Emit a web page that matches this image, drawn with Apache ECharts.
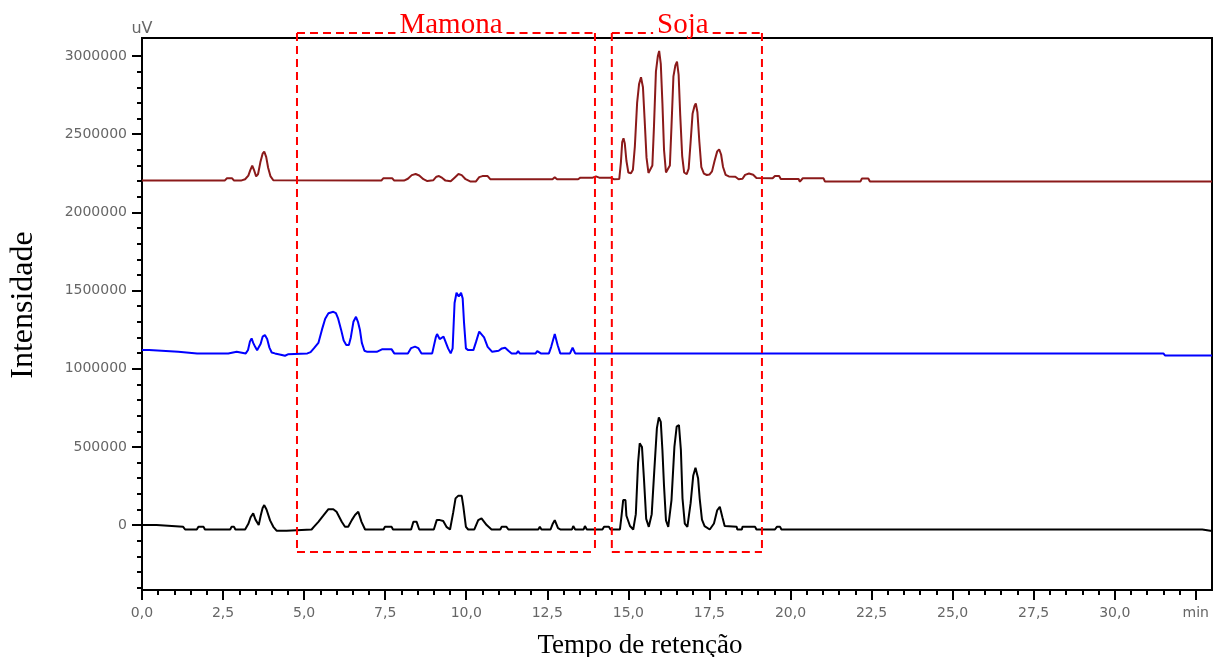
<!DOCTYPE html>
<html>
<head>
<meta charset="utf-8">
<script src="https://cdn.jsdelivr.net/npm/echarts@6/dist/echarts.min.js"></script>
<style>
  html, body { margin: 0; padding: 0; background: #fff; }
  #chart { width: 1222px; height: 657px; }
</style>
</head>
<body>
<div id="chart"></div>
<script>
// Retention time axis (min) and intensity axis (uV)
const xMajorTicks = [0, 2.5, 5, 7.5, 10, 12.5, 15, 17.5, 20, 22.5, 25, 27.5, 30, 32.5];
const xMinorTicks = [];
for (let i = 0; i <= 65; i++) xMinorTicks.push(i * 0.5);
const yMajorTicks = [0, 500000, 1000000, 1500000, 2000000, 2500000, 3000000];
const yMinorTicks = [];
for (let i = -4; i <= 30; i++) yMinorTicks.push(i * 100000);

// Chromatograms: [time (min), intensity (thousands of uV)]
const soyTrace = [
  [0,2203],[2.55,2203],[2.62,2218],[2.78,2218],[2.84,2203],[3.05,2203],[3.18,2212],[3.28,2235],[3.34,2270],[3.40,2298],
  [3.46,2268],[3.52,2230],[3.58,2245],[3.65,2320],[3.72,2375],[3.77,2388],[3.83,2355],[3.89,2285],[3.96,2232],[4.05,2205],
  [7.38,2203],[7.44,2218],[7.72,2218],[7.78,2203],[8.08,2203],[8.2,2215],[8.32,2238],[8.44,2245],[8.55,2236],[8.68,2212],
  [8.8,2200],[8.98,2205],[9.08,2228],[9.16,2232],[9.26,2220],[9.36,2203],[9.52,2199],[9.64,2222],[9.76,2245],[9.86,2238],
  [9.98,2212],[10.12,2198],[10.3,2198],[10.4,2225],[10.5,2232],[10.66,2232],[10.74,2212],[12.66,2212],[12.73,2225],[12.8,2212],
  [13.45,2212],[13.52,2222],[13.9,2222],[14.0,2230],[14.1,2222],[14.45,2222],[14.55,2212],[14.72,2214],[14.77,2320],[14.81,2450],
  [14.85,2474],[14.89,2440],[14.94,2330],[15.0,2255],[15.08,2250],[15.14,2272],[15.2,2420],[15.27,2700],[15.33,2820],[15.39,2864],
  [15.45,2800],[15.5,2600],[15.56,2350],[15.62,2252],[15.68,2245],[15.74,2300],[15.79,2550],[15.85,2900],[15.91,3000],[15.95,3032],
  [16.0,2950],[16.05,2700],[16.1,2400],[16.16,2255],[16.22,2245],[16.28,2300],[16.33,2550],[16.39,2870],[16.45,2940],[16.5,2964],
  [16.55,2880],[16.6,2620],[16.66,2360],[16.72,2255],[16.8,2245],[16.86,2280],[16.92,2450],[16.98,2630],[17.04,2680],[17.08,2697],
  [17.13,2640],[17.19,2450],[17.25,2290],[17.33,2248],[17.42,2239],[17.5,2242],[17.58,2262],[17.66,2330],[17.74,2390],[17.8,2403],
  [17.86,2370],[17.92,2290],[18.0,2240],[18.1,2230],[18.3,2228],[18.4,2212],[18.52,2215],[18.6,2240],[18.72,2248],[18.85,2240],
  [18.95,2220],[19.45,2218],[19.52,2232],[19.65,2232],[19.7,2213],[20.25,2213],[20.29,2196],[20.34,2196],[20.38,2218],[21.02,2218],
  [21.06,2198],[22.16,2198],[22.2,2216],[22.4,2216],[22.45,2198],[33,2198]
];
const castorTrace = [
  [0,1119],[0.22,1119],[0.25,1109],[1.12,1109],[1.17,1098],[1.7,1098],[1.74,1109],[1.78,1098],[2.58,1098],[2.62,1109],
  [2.66,1098],[2.7,1109],[2.92,1109],[2.97,1098],[3.2,1098],[3.27,1120],[3.33,1175],[3.38,1194],[3.43,1165],[3.49,1140],
  [3.55,1118],[3.6,1109],[3.66,1160],[3.72,1205],[3.79,1215],[3.86,1190],[3.93,1135],[4.0,1104],[4.1,1098],[4.28,1090],
  [4.41,1083],[4.5,1092],[4.56,1098],[5.1,1098],[5.2,1106],[5.3,1130],[5.44,1165],[5.55,1250],[5.65,1320],[5.75,1355],
  [5.9,1364],[5.98,1355],[6.05,1320],[6.14,1250],[6.22,1180],[6.3,1152],[6.38,1151],[6.44,1200],[6.52,1300],[6.6,1332],
  [6.66,1300],[6.72,1250],[6.78,1165],[6.86,1115],[6.95,1108],[7.24,1108],[7.3,1096],[7.4,1124],[7.7,1124],[7.78,1098],
  [8.2,1098],[8.3,1132],[8.42,1141],[8.52,1132],[8.62,1098],[8.95,1098],[9.0,1110],[9.06,1200],[9.1,1222],[9.18,1190],
  [9.24,1183],[9.3,1205],[9.36,1198],[9.44,1130],[9.52,1098],[9.58,1130],[9.64,1420],[9.7,1486],[9.77,1462],[9.84,1486],
  [9.89,1450],[9.93,1300],[9.99,1130],[10.06,1119],[10.22,1119],[10.3,1170],[10.4,1238],[10.46,1247],[10.55,1200],[10.66,1140],
  [10.8,1108],[11.0,1115],[11.1,1130],[11.2,1134],[11.3,1115],[11.4,1098],[11.55,1098],[11.6,1113],[11.65,1098],[12.14,1098],
  [12.19,1113],[12.3,1098],[12.55,1098],[12.62,1140],[12.73,1222],[12.82,1150],[12.9,1098],[13.2,1098],[13.28,1134],[13.36,1098],
  [31.5,1098],[31.55,1085],[33,1085]
];
const blendTrace = [
  [0,0],[0.45,0],[0.5,-11],[1.27,-11],[1.33,-28],[1.69,-28],[1.74,-11],[1.9,-11],[1.94,-28],[2.72,-28],
  [2.76,-11],[2.84,-11],[2.88,-28],[3.18,-28],[3.28,8],[3.35,50],[3.43,75],[3.5,35],[3.6,0],[3.66,60],
  [3.72,110],[3.77,128],[3.84,100],[3.95,30],[4.05,-11],[4.15,-36],[4.46,-36],[4.5,-28],[5.23,-28],[5.3,-11],
  [5.44,21],[5.59,60],[5.75,102],[5.9,102],[6.0,85],[6.16,21],[6.26,-11],[6.36,-11],[6.47,32],[6.57,65],
  [6.67,85],[6.77,21],[6.88,-28],[7.45,-28],[7.49,-11],[7.7,-11],[7.74,-28],[8.3,-28],[8.37,21],[8.47,21],
  [8.55,-28],[9.0,-28],[9.09,32],[9.19,32],[9.29,26],[9.39,-11],[9.5,-28],[9.6,83],[9.67,171],[9.75,187],
  [9.86,187],[9.91,120],[9.99,-11],[10.06,-28],[10.25,-28],[10.37,32],[10.47,43],[10.63,0],[10.78,-28],[11.05,-28],
  [11.09,-11],[11.24,-11],[11.3,-28],[12.22,-28],[12.27,-11],[12.32,-28],[12.6,-28],[12.66,5],[12.73,32],[12.83,-20],
  [12.9,-28],[13.26,-28],[13.3,-6],[13.36,-28],[13.62,-28],[13.66,-6],[13.72,-28],[14.2,-28],[14.25,-11],[14.4,-11],
  [14.45,-28],[14.74,-28],[14.79,60],[14.84,160],[14.91,160],[14.94,60],[15.05,-6],[15.15,-28],[15.23,70],[15.3,400],
  [15.35,523],[15.42,500],[15.48,300],[15.55,40],[15.63,-11],[15.72,70],[15.8,350],[15.88,620],[15.94,689],[16.0,660],
  [16.05,480],[16.1,250],[16.16,30],[16.23,-11],[16.33,160],[16.42,500],[16.49,630],[16.56,640],[16.62,480],[16.67,170],
  [16.74,10],[16.82,-11],[16.92,140],[17.0,315],[17.07,367],[17.15,300],[17.2,170],[17.27,35],[17.35,-6],[17.51,-28],
  [17.64,10],[17.74,95],[17.82,117],[17.9,50],[17.97,-6],[18.03,-11],[18.34,-11],[18.36,-28],[18.5,-28],[18.52,-11],
  [18.91,-11],[18.95,-28],[19.52,-28],[19.58,-11],[19.68,-11],[19.72,-28],[32.7,-28],[32.75,-38],[33,-38]
];

// Highlighted elution windows
const regionNames = ['Mamona', 'Soja'];
const regionStart = [4.78, 14.49];
const regionEnd = [13.97, 19.12];
const regionTop = 3147000;
const regionBottom = -172000;

const toUv = arr => arr.map(p => [p[0], p[1] * 1000]);

const labelFont = 'DejaVu Sans';
const labelColor = '#666666';
const serif = '"Liberation Serif", "Times New Roman", serif';

const chart = echarts.init(document.getElementById('chart'), null, { renderer: 'canvas' });

const option = {
  animation: false,
  backgroundColor: '#ffffff',
  grid: { left: 142, right: 10, top: 38, bottom: 67, show: true, borderColor: '#000', borderWidth: 2 },
  xAxis: [
    {
      type: 'value', min: 0, max: 33, position: 'bottom',
      axisLine: { onZero: false, lineStyle: { color: '#000', width: 2 } },
      axisTick: { customValues: xMajorTicks, length: 10, lineStyle: { color: '#000', width: 2 } },
      axisLabel: {
        customValues: xMajorTicks, margin: 16, color: labelColor, fontFamily: labelFont, fontSize: 14,
        formatter: v => (Math.abs(v - 32.5) < 1e-6 ? 'min' : v.toFixed(1).replace('.', ','))
      },
      splitLine: { show: false }
    },
    {
      type: 'value', min: 0, max: 33, position: 'bottom',
      axisLine: { show: false, onZero: false },
      axisTick: { customValues: xMinorTicks, length: 5, lineStyle: { color: '#000', width: 2 } },
      axisLabel: { show: false },
      splitLine: { show: false }
    }
  ],
  yAxis: [
    {
      type: 'value', min: -415000, max: 3115000, position: 'left',
      name: 'uV', nameLocation: 'end', nameGap: 1,
      nameTextStyle: { color: labelColor, fontFamily: labelFont, fontSize: 16, align: 'center', verticalAlign: 'bottom' },
      axisLine: { onZero: false, lineStyle: { color: '#000', width: 2 } },
      axisTick: { customValues: yMajorTicks, length: 10, lineStyle: { color: '#000', width: 2 } },
      axisLabel: {
        customValues: yMajorTicks, margin: 15, color: labelColor, fontFamily: labelFont, fontSize: 14,
        formatter: v => String(v)
      },
      splitLine: { show: false }
    },
    {
      type: 'value', min: -415000, max: 3115000, position: 'left',
      axisLine: { show: false, onZero: false },
      axisTick: { customValues: yMinorTicks, length: 5, lineStyle: { color: '#000', width: 2 } },
      axisLabel: { show: false },
      splitLine: { show: false }
    }
  ],
  series: [
    { name: 'Biodiesel de soja', type: 'line', data: toUv(soyTrace), showSymbol: false, lineStyle: { color: '#8b1a1a', width: 2 }, z: 3 },
    { name: 'Biodiesel de mamona', type: 'line', data: toUv(castorTrace), showSymbol: false, lineStyle: { color: '#0000ff', width: 2 }, z: 3 },
    { name: 'Mistura', type: 'line', data: toUv(blendTrace), showSymbol: false, lineStyle: { color: '#000000', width: 2 }, z: 3 }
  ],
  graphic: [
    {
      type: 'text', x: 24, y: 305, rotation: Math.PI / 2, z: 20,
      style: { text: 'Intensidade', font: '32px ' + serif, fill: '#000', align: 'center', verticalAlign: 'middle' }
    },
    {
      type: 'text', x: 640, y: 646, z: 20,
      style: { text: 'Tempo de retenção', font: '27px ' + serif, fill: '#000', align: 'center', verticalAlign: 'middle' }
    }
  ]
};
chart.setOption(option);

// Dashed boxes marking the elution windows, placed through the axis scales
const measure = document.createElement('canvas').getContext('2d');
const titleFont = '29px ' + serif;
measure.font = titleFont;
const boxStyle = { stroke: '#ff0000', lineWidth: 2, lineDash: [8, 5], fill: null };
const extra = [];
regionNames.forEach((name, i) => {
  const tl = chart.convertToPixel({ xAxisIndex: 0, yAxisIndex: 0 }, [regionStart[i], regionTop]);
  const br = chart.convertToPixel({ xAxisIndex: 0, yAxisIndex: 0 }, [regionEnd[i], regionBottom]);
  const cx = (tl[0] + br[0]) / 2 + (i === 0 ? 5 : -4);
  const w = measure.measureText(name).width;
  const seg = (x1, y1, x2, y2) => ({ type: 'line', z: 15, shape: { x1, y1, x2, y2 }, style: boxStyle });
  extra.push(seg(tl[0], tl[1], tl[0], br[1]));
  extra.push(seg(br[0], tl[1], br[0], br[1]));
  extra.push(seg(tl[0], br[1], br[0], br[1]));
  extra.push(seg(tl[0], tl[1], cx - w / 2 - 4, tl[1]));
  extra.push(seg(cx + w / 2 + 4, tl[1], br[0], tl[1]));
  extra.push({
    type: 'text', x: cx, y: tl[1] + 7, z: 16,
    style: { text: name, font: titleFont, fill: '#ff0000', align: 'center', verticalAlign: 'bottom' }
  });
});
chart.setOption({ graphic: option.graphic.concat(extra) });
</script>
</body>
</html>
